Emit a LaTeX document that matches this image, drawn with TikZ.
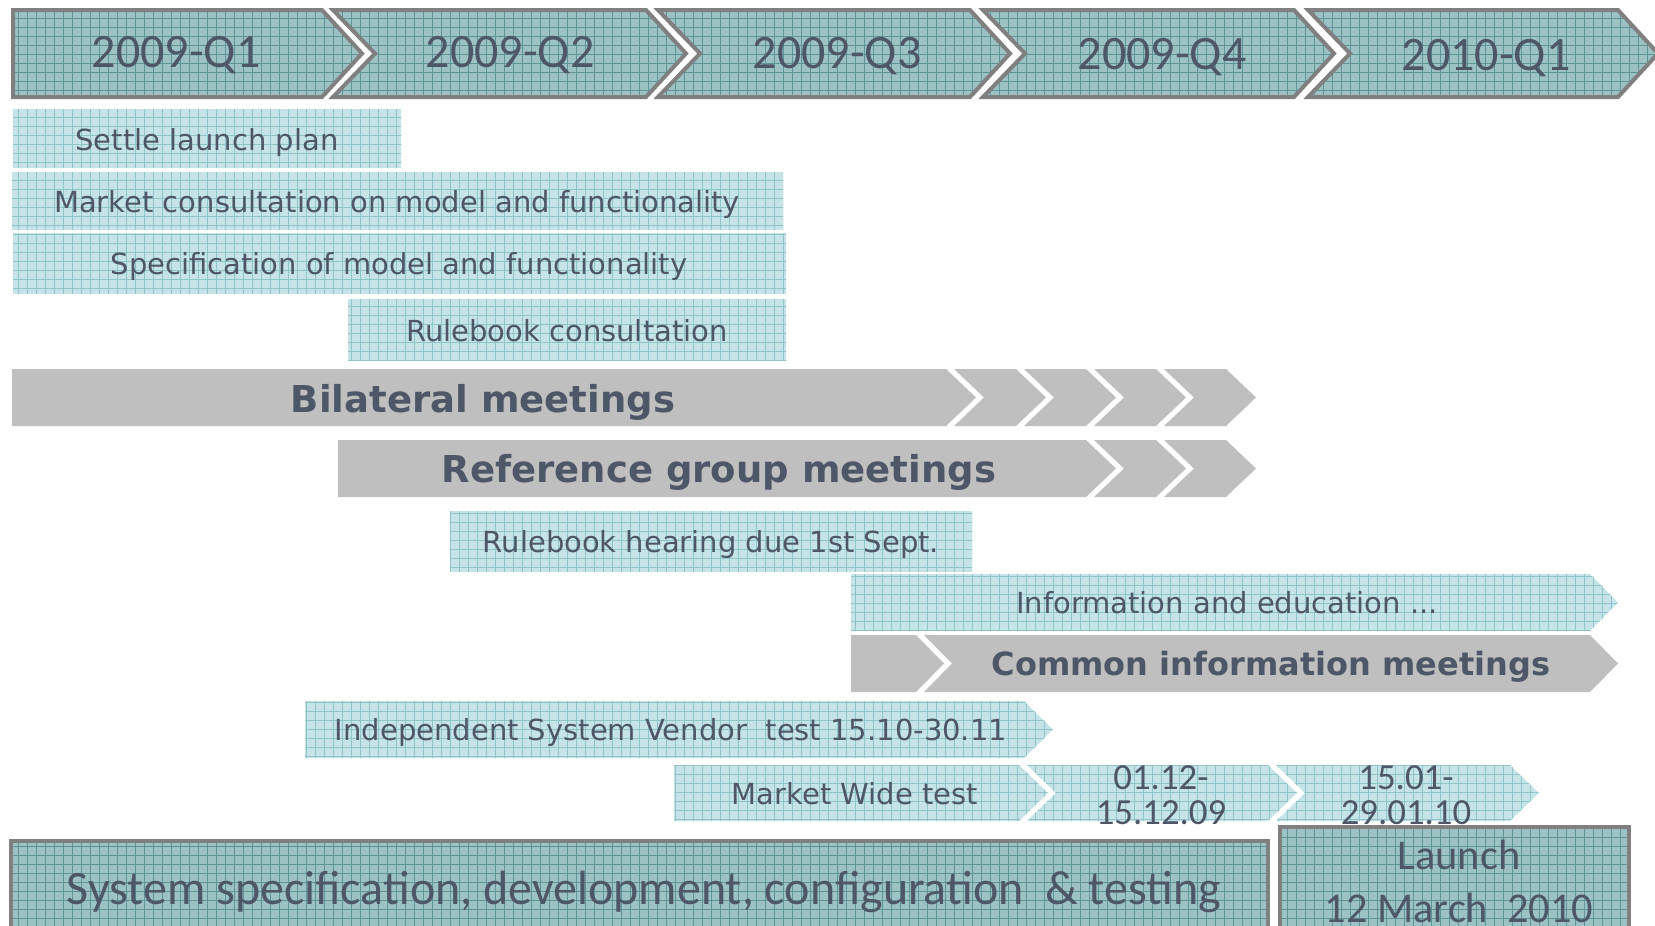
\documentclass[tikz,border=0pt]{standalone}
\usepackage{fontspec}
\setmainfont{DejaVu Sans}
\newfontfamily\calfont{Carlito}

\definecolor{txt}{HTML}{4D5767}
\definecolor{frame}{HTML}{808080}
\definecolor{barGray}{HTML}{BFBFBF}
\definecolor{hdrBase}{HTML}{9DC2C4}
\definecolor{hdrLine}{HTML}{5F9498}
\definecolor{lightBase}{HTML}{C6E4E7}
\definecolor{lightLine}{HTML}{8DC5CB}

% chevron outline: left, right, tip, top, bottom, notch depth
\newcommand\chevron[6]{(#1,#4) -- (#2,#4) -- (#3,{(#4+#5)/2}) -- (#2,#5) -- (#1,#5) -- ({#1+#6},{(#4+#5)/2}) -- cycle}

% fill a path with a squared-paper texture
\newcommand\texfill[3]{%
  \begin{scope}
    \clip #1;
    \fill[#2] (0,940) rectangle (1655,0);
    \draw[#3, line width=0.4pt, step=4.5pt] (0,940) grid (1655,0);
  \end{scope}}

\begin{document}
\begin{tikzpicture}[x=0.5pt, y=-0.5pt,
  hdrtext/.style={font=\calfont\fontsize{24}{28}\selectfont, text=txt, inner sep=0pt, text height=15.3pt, text depth=0pt},
  caltwo/.style={font=\calfont\fontsize{18.4}{17.5}\selectfont, text=txt, inner sep=0pt, align=center},
  bartext/.style={font=\fontsize{14.5}{17}\selectfont, text=txt, inner sep=0pt, text height=10.6pt, text depth=0pt},
  boldtext/.style={font=\bfseries\fontsize{18.5}{22}\selectfont, text=txt, inner sep=0pt, text height=13.5pt, text depth=0pt},
  hdrframe/.style={draw=frame, line width=2pt, line join=miter},
  boxframe/.style={draw=frame, line width=1.6pt},
  grayshape/.style={fill=barGray}
]
\useasboundingbox (0,0) rectangle (1655,926);
\clip (0,0) rectangle (1655,926);

% ---------- quarter headers ----------
\texfill{\chevron{13}{322}{362}{10}{97}{0}}{hdrBase}{hdrLine}
\draw[hdrframe] \chevron{13}{322}{362}{10}{97}{0};
\texfill{\chevron{333}{646}{686}{10}{97}{42}}{hdrBase}{hdrLine}
\draw[hdrframe] \chevron{333}{646}{686}{10}{97}{42};
\texfill{\chevron{658}{970}{1010}{10}{97}{42}}{hdrBase}{hdrLine}
\draw[hdrframe] \chevron{658}{970}{1010}{10}{97}{42};
\texfill{\chevron{983}{1294}{1334}{10}{97}{42}}{hdrBase}{hdrLine}
\draw[hdrframe] \chevron{983}{1294}{1334}{10}{97}{42};
\texfill{\chevron{1308}{1618}{1658}{10}{97}{42}}{hdrBase}{hdrLine}
\draw[hdrframe] \chevron{1308}{1618}{1658}{10}{97}{42};

\node[hdrtext] (q1) at (176,52) {2009-Q1};
\node[hdrtext] (q2) at (510,52) {2009-Q2};
\node[hdrtext] (q3) at (837,53) {2009-Q3};
\node[hdrtext] (q4) at (1162,54) {2009-Q4};
\node[hdrtext] (q5) at (1486,55) {2010-Q1};

% ---------- planning activities ----------
\texfill{(13,109) rectangle (401,167)}{lightBase}{lightLine}
\node[bartext] (settle) at (207,139.5) {Settle launch plan};

\texfill{(12,172) rectangle (783,229)}{lightBase}{lightLine}
\node[bartext] (consult) at (397,201.5) {Market consultation on model and functionality};

\texfill{(13,233) rectangle (786,293)}{lightBase}{lightLine}
\node[bartext] (spec) at (399,264) {Specification of model and functionality};

\texfill{(348,299) rectangle (786,360)}{lightBase}{lightLine}
\node[bartext] (rulecons) at (567,330.5) {Rulebook consultation};

% ---------- meetings ----------
\fill[grayshape] \chevron{12}{946}{976}{369}{426}{0};
\fill[grayshape] \chevron{954}{1016}{1046}{369}{426}{30};
\fill[grayshape] \chevron{1024}{1086}{1116}{369}{426}{30};
\fill[grayshape] \chevron{1094}{1156}{1186}{369}{426}{30};
\fill[grayshape] \chevron{1164}{1226}{1256}{369}{426}{30};
\node[boldtext] (bilat) at (483,398.5) {Bilateral meetings};

\fill[grayshape] \chevron{338}{1086}{1116}{440}{497}{0};
\fill[grayshape] \chevron{1094}{1156}{1186}{440}{497}{30};
\fill[grayshape] \chevron{1164}{1226}{1256}{440}{497}{30};
\node[boldtext] (refgrp) at (719,469) {Reference group meetings};

\texfill{(450,511) rectangle (972,571)}{lightBase}{lightLine}
\node[bartext] (hearing) at (711,541.5) {Rulebook hearing due 1st Sept.};

\texfill{\chevron{851}{1590}{1618}{574}{631}{0}}{lightBase}{lightLine}
\node[bartext] (info) at (1227,603) {Information and education ...};

\fill[grayshape] \chevron{851}{916}{944}{635}{692}{0};
\fill[grayshape] \chevron{924}{1590}{1618}{635}{692}{28};
\node[boldtext, font=\bfseries\fontsize{16}{19}\selectfont, text height=11.7pt] (common) at (1271,664) {Common information meetings};

% ---------- testing ----------
\texfill{\chevron{305}{1024}{1053}{701}{758}{0}}{lightBase}{lightLine}
\node[bartext] (isv) at (671,730) {Independent System Vendor\ \ test 15.10-30.11};

\texfill{\chevron{674}{1019}{1048}{765}{821}{0}}{lightBase}{lightLine}
\texfill{\chevron{1027}{1268}{1297}{765}{821}{29}}{lightBase}{lightLine}
\texfill{\chevron{1276}{1510}{1539}{765}{821}{29}}{lightBase}{lightLine}
\node[bartext] (mwt) at (855,794) {Market Wide test};
\node[caltwo] (mw1) at (1161,795.5) {01.12-\\15.12.09};
\node[caltwo] (mw2) at (1406,795.5) {15.01-\\29.01.10};

% ---------- development and launch ----------
\texfill{(11,841) rectangle (1268,960)}{hdrBase}{hdrLine}
\draw[boxframe] (11,841) rectangle (1268,960);
\node[hdrtext] (sys) at (644,889) {System specification, development, configuration\ \ \& testing};

\texfill{(1280,827) rectangle (1629,960)}{hdrBase}{hdrLine}
\draw[boxframe] (1280,827) rectangle (1629,960);
\node[text=txt, inner sep=0pt, align=center, font=\calfont\fontsize{21.2}{26.5}\selectfont] (launch) at (1459,881.5) {Launch\\12 March\ \ 2010};
\end{tikzpicture}
\end{document}
